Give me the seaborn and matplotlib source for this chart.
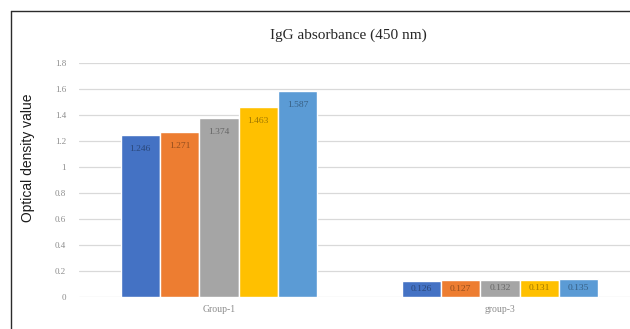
import numpy as np
import pandas as pd
import matplotlib
matplotlib.use("Agg")
import matplotlib.pyplot as plt
import matplotlib.colors as mcolors
import seaborn as sns

groups = ["Group-1", "group-3"]
series = ["S1", "S2", "S3", "S4", "S5"]
values_group1 = [1.246, 1.271, 1.374, 1.463, 1.587]
values_group3 = [0.126, 0.127, 0.132, 0.131, 0.135]
colors = ["#4472C4", "#ED7D31", "#A5A5A5", "#FFC000", "#5B9BD5"]
y_ticks = [0, 0.2, 0.4, 0.6, 0.8, 1, 1.2, 1.4, 1.6, 1.8]
y_tick_labels = ["0", "0.2", "0.4", "0.6", "0.8", "1", "1.2", "1.4", "1.6", "1.8"]

rows = []
for g, vals in zip(groups, [values_group1, values_group3]):
    for s, v in zip(series, vals):
        rows.append({"group": g, "series": s, "value": v})
df = pd.DataFrame(rows)

sns.set_theme(style="white")
plt.rcParams["font.family"] = ["Liberation Serif", "DejaVu Serif"]

fig = plt.figure(figsize=(6.3, 3.29), dpi=100)
ax = fig.add_axes([78.5 / 630, (329 - 297) / 329, 562 / 630, (297 - 63) / 329])

sns.barplot(data=df, x="group", y="value", hue="series", order=groups,
            hue_order=series, palette=colors, width=0.7, saturation=1,
            legend=False, ax=ax, zorder=3)

ax.set_ylim(0, 1.8)
ax.set_xlim(-0.5, 1.5)
ax.set_yticks(y_ticks)
ax.set_yticklabels(y_tick_labels)
ax.yaxis.grid(True, color="#D9D9D9", linewidth=0.9, zorder=0)
ax.set_axisbelow(True)
for sp in ax.spines.values():
    sp.set_visible(False)
ax.tick_params(axis="y", length=0, pad=9, labelsize=6.5, labelcolor="#8C8C8C")
ax.tick_params(axis="x", length=0, pad=6, labelsize=7, labelcolor="#8C8C8C")
ax.set_xlabel("")
ax.set_ylabel("")

# data labels, inside end
for container, col in zip(ax.containers, colors):
    dark = tuple(np.array(mcolors.to_rgb(col)) * 0.62)
    for bar in container:
        h = bar.get_height()
        x = bar.get_x() + bar.get_width() / 2
        px = ax.transData.transform([(0, h)])[0][1] - ax.transData.transform([(0, 0)])[0][1]
        hpts = px * 72 / fig.dpi
        off = min(10, hpts / 2)
        ax.annotate(f"{h:.3f}", xy=(x, h), xytext=(0, -off), textcoords="offset points",
                    ha="center", va="center", fontsize=6.8, color=dark, zorder=4)

fig.text(348 / 630, 1 - 35 / 329, "IgG absorbance (450 nm)", ha="center", va="center",
         fontsize=11, color="#262626")
fig.text(28 / 630, 1 - 158 / 329, "Optical density value", rotation=90,
         ha="center", va="center", fontsize=10, color="#1a1a1a",
         family=["Liberation Sans", "DejaVu Sans"])

# outer frame (left and top edges visible)
fig.add_artist(plt.Line2D([11 / 630, 11 / 630], [0, 1 - 10.5 / 329], transform=fig.transFigure,
                          color="#2b2b2b", linewidth=1.0))
fig.add_artist(plt.Line2D([11 / 630, 1], [1 - 10.5 / 329, 1 - 10.5 / 329], transform=fig.transFigure,
                          color="#2b2b2b", linewidth=1.0))

fig.savefig("out.png", dpi=100)
